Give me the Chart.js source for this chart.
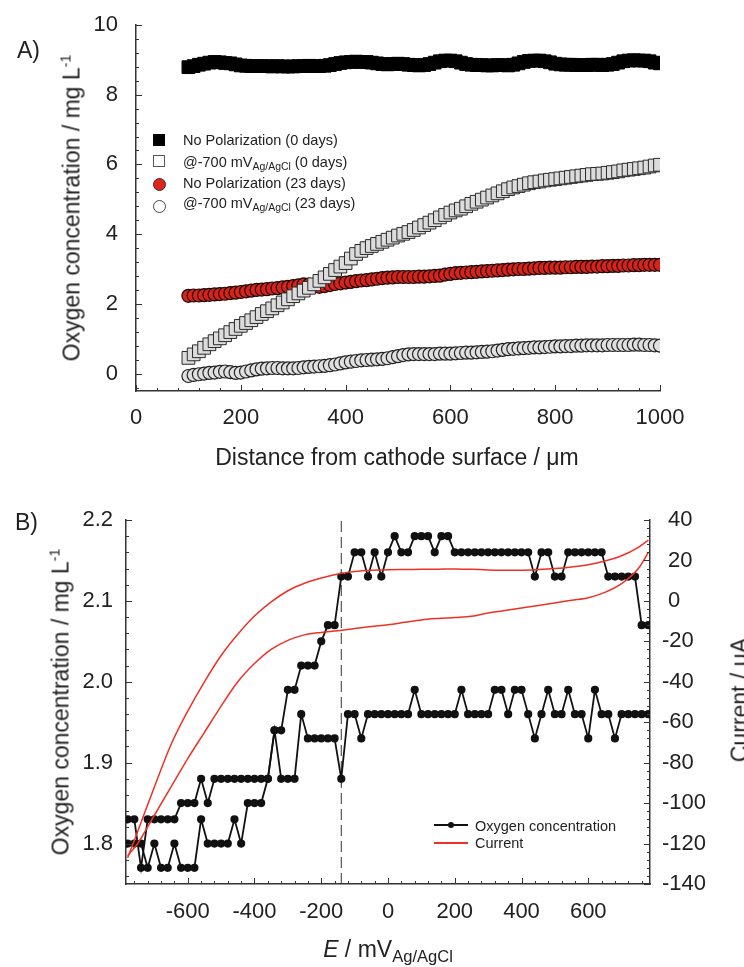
<!DOCTYPE html>
<html>
<head>
<meta charset="utf-8">
<script src="https://cdn.jsdelivr.net/npm/chart.js@4.4.1/dist/chart.umd.min.js"></script>
<style>
  html, body { margin: 0; padding: 0; background: #fff; }
  body { width: 744px; height: 967px; position: relative; overflow: hidden;
         font-family: 'Liberation Sans', Arial, sans-serif; color: #222; }
  canvas { position: absolute; left: 0; }
  .t { position: absolute; white-space: nowrap; line-height: 1; }
  .rot { transform: translate(-50%, -50%) rotate(-90deg); }
  .ctr { transform: translateX(-50%); }
  sub { font-size: 0.72em; vertical-align: -0.32em; line-height: 0; }
  sup { font-size: 0.62em; vertical-align: 0.62em; line-height: 0; }
  .leg { font-size: 14.5px; }
  .sym { position: absolute; box-sizing: border-box; }
</style>
</head>
<body>
<canvas id="chartA" width="744" height="470" style="top:0"></canvas>
<canvas id="chartB" width="744" height="497" style="top:470px"></canvas>

<div class="t" style="left:17px; top:38.5px; font-size:23px">A)</div>
<div class="t" style="left:15px; top:510.5px; font-size:23px">B)</div>

<div class="t rot" style="left:72px; top:208px; font-size:23px">Oxygen concentration / mg L<sup>-1</sup></div>
<div class="t ctr" style="left:397px; top:445.5px; font-size:23px">Distance from cathode surface / &mu;m</div>

<div class="t rot" style="left:61px; top:702px; font-size:23px">Oxygen concentration / mg L<sup>-1</sup></div>
<div class="t rot" style="left:739.5px; top:700px; font-size:23px">Current / &mu;A</div>
<div class="t ctr" style="left:388px; top:937.5px; font-size:23px"><i>E</i> / mV<sub>Ag/AgCl</sub></div>

<!-- legend A -->
<div class="sym" style="left:153px; top:134px; width:12px; height:12px; background:#000"></div>
<div class="sym" style="left:153px; top:155px; width:12px; height:12px; background:#fff; border:1px solid #555"></div>
<div class="sym" style="left:152.5px; top:177.5px; width:13px; height:13px; border-radius:50%; background:#e0261c; border:1px solid #333"></div>
<div class="sym" style="left:152.5px; top:199.5px; width:13px; height:13px; border-radius:50%; background:#fff; border:1px solid #444"></div>
<div class="t leg" style="left:183px; top:132.7px">No Polarization (0 days)</div>
<div class="t leg" style="left:183px; top:154.7px">@-700 mV<sub>Ag/AgCl</sub> (0 days)</div>
<div class="t leg" style="left:183px; top:175.7px">No Polarization (23 days)</div>
<div class="t leg" style="left:183px; top:195.7px">@-700 mV<sub>Ag/AgCl</sub> (23 days)</div>

<!-- legend B -->
<div class="sym" style="left:434px; top:824px; width:34px; height:2px; background:#111"></div>
<div class="sym" style="left:448px; top:822px; width:6px; height:6px; border-radius:50%; background:#111"></div>
<div class="sym" style="left:434px; top:842px; width:34px; height:2px; background:#ee3124"></div>
<div class="t leg" style="left:475px; top:818.7px">Oxygen concentration</div>
<div class="t leg" style="left:475px; top:835.7px">Current</div>

<script>
// ---------- Panel A: oxygen profiles vs distance ----------
const DIST = [100, 110, 120, 130, 140, 150, 160, 170, 180, 190,
  200, 210, 220, 230, 240, 250, 260, 270, 280, 290,
  300, 310, 320, 330, 340, 350, 360, 370, 380, 390,
  400, 410, 420, 430, 440, 450, 460, 470, 480, 490,
  500, 510, 520, 530, 540, 550, 560, 570, 580, 590,
  600, 610, 620, 630, 640, 650, 660, 670, 680, 690,
  700, 710, 720, 730, 740, 750, 760, 770, 780, 790,
  800, 810, 820, 830, 840, 850, 860, 870, 880, 890,
  900, 910, 920, 930, 940, 950, 960, 970, 980, 990, 1000];

const NOPOL_0D = [8.79, 8.82, 8.86, 8.89, 8.92, 8.94, 8.93, 8.91, 8.90, 8.87,
  8.84, 8.83, 8.82, 8.82, 8.82, 8.82, 8.81, 8.82, 8.81, 8.81,
  8.81, 8.82, 8.82, 8.83, 8.82, 8.82, 8.83, 8.85, 8.88, 8.91,
  8.93, 8.94, 8.95, 8.94, 8.94, 8.92, 8.90, 8.88, 8.87, 8.88,
  8.89, 8.88, 8.86, 8.85, 8.84, 8.85, 8.88, 8.92, 8.96, 8.98,
  8.98, 8.96, 8.92, 8.88, 8.86, 8.85, 8.85, 8.84, 8.84, 8.85,
  8.85, 8.84, 8.86, 8.90, 8.94, 8.97, 8.98, 8.98, 8.96, 8.93,
  8.89, 8.87, 8.86, 8.86, 8.85, 8.85, 8.85, 8.86, 8.86, 8.85,
  8.86, 8.88, 8.92, 8.96, 8.98, 8.99, 8.98, 8.98, 8.96, 8.92, 8.90];

const POL_0D = [0.45, 0.55, 0.64, 0.74, 0.84, 0.93, 1.01, 1.10, 1.19, 1.28,
  1.37, 1.45, 1.53, 1.62, 1.71, 1.79, 1.87, 1.96, 2.04, 2.13,
  2.22, 2.30, 2.38, 2.46, 2.56, 2.66, 2.76, 2.86, 2.97, 3.07,
  3.17, 3.30, 3.43, 3.52, 3.60, 3.66, 3.72, 3.78, 3.84, 3.90,
  3.96, 4.01, 4.06, 4.12, 4.19, 4.26, 4.33, 4.40, 4.48, 4.55,
  4.62, 4.68, 4.73, 4.80, 4.87, 4.93, 4.99, 5.05, 5.11, 5.17,
  5.23, 5.29, 5.34, 5.38, 5.42, 5.46, 5.49, 5.51, 5.54, 5.56,
  5.58, 5.60, 5.62, 5.64, 5.66, 5.68, 5.70, 5.72, 5.73, 5.74,
  5.76, 5.78, 5.80, 5.83, 5.85, 5.87, 5.89, 5.91, 5.94, 5.97, 5.99];

const NOPOL_23D = [2.23, 2.24, 2.24, 2.25, 2.26, 2.27, 2.28, 2.29, 2.31, 2.32,
  2.34, 2.36, 2.38, 2.40, 2.41, 2.42, 2.44, 2.45, 2.47, 2.49,
  2.51, 2.53, 2.56, 2.55, 2.50, 2.49, 2.51, 2.54, 2.57, 2.59,
  2.61, 2.63, 2.65, 2.67, 2.68, 2.70, 2.72, 2.74, 2.75, 2.76,
  2.77, 2.77, 2.77, 2.77, 2.78, 2.78, 2.79, 2.80, 2.81, 2.84,
  2.86, 2.88, 2.89, 2.90, 2.91, 2.92, 2.93, 2.94, 2.95, 2.96,
  2.97, 2.98, 2.99, 3.00, 3.00, 3.01, 3.02, 3.03, 3.03, 3.04,
  3.04, 3.04, 3.05, 3.05, 3.06, 3.06, 3.06, 3.07, 3.07, 3.08,
  3.08, 3.09, 3.09, 3.10, 3.10, 3.11, 3.11, 3.12, 3.12, 3.12, 3.12];

const POL_23D = [-0.07, -0.04, -0.02, 0.00, 0.02, 0.03, 0.05, 0.06, 0.04, 0.02,
  0.03, 0.06, 0.09, 0.12, 0.14, 0.15, 0.16, 0.16, 0.15, 0.15,
  0.15, 0.16, 0.18, 0.19, 0.20, 0.21, 0.22, 0.24, 0.26, 0.29,
  0.32, 0.34, 0.36, 0.38, 0.39, 0.40, 0.41, 0.42, 0.44, 0.47,
  0.50, 0.53, 0.55, 0.56, 0.56, 0.56, 0.56, 0.56, 0.57, 0.57,
  0.57, 0.58, 0.59, 0.60, 0.60, 0.61, 0.62, 0.63, 0.64, 0.66,
  0.68, 0.70, 0.71, 0.72, 0.73, 0.74, 0.75, 0.75, 0.76, 0.77,
  0.78, 0.78, 0.79, 0.79, 0.80, 0.80, 0.81, 0.81, 0.81, 0.81,
  0.82, 0.82, 0.82, 0.82, 0.82, 0.83, 0.83, 0.82, 0.82, 0.81, 0.80];

const A_X_TICKS = [0, 200, 400, 600, 800, 1000];
const A_Y_TICKS = [0, 2, 4, 6, 8, 10];

// ---------- Panel B: oxygen and current vs potential ----------
const E_GRID = [-780, -760, -740, -720, -700, -680, -660, -640, -620, -600,
  -580, -560, -540, -520, -500, -480, -460, -440, -420, -400,
  -380, -360, -340, -320, -300, -280, -260, -240, -220, -200,
  -180, -160, -140, -120, -100, -80, -60, -40, -20, 0,
  20, 40, 60, 80, 100, 120, 140, 160, 180, 200,
  220, 240, 260, 280, 300, 320, 340, 360, 380, 400,
  420, 440, 460, 480, 500, 520, 540, 560, 580, 600,
  620, 640, 660, 680, 700, 720, 740, 760, 780];

const O2_SWEEP_1 = [1.83, 1.83, 1.77, 1.83, 1.83, 1.83, 1.83, 1.83, 1.85, 1.85,
  1.85, 1.88, 1.85, 1.88, 1.88, 1.88, 1.88, 1.88, 1.88, 1.88,
  1.88, 1.88, 1.94, 1.94, 1.99, 1.99, 2.02, 2.02, 2.02, 2.05,
  2.07, 2.07, 2.13, 2.13, 2.16, 2.16, 2.13, 2.16, 2.13, 2.16,
  2.18, 2.16, 2.16, 2.18, 2.18, 2.18, 2.16, 2.18, 2.18, 2.16,
  2.16, 2.16, 2.16, 2.16, 2.16, 2.16, 2.16, 2.16, 2.16, 2.16,
  2.16, 2.13, 2.16, 2.16, 2.13, 2.13, 2.16, 2.16, 2.16, 2.16,
  2.16, 2.16, 2.13, 2.13, 2.13, 2.13, 2.13, 2.07, 2.07];

const O2_SWEEP_2 = [1.80, 1.80, 1.80, 1.77, 1.80, 1.77, 1.77, 1.80, 1.77, 1.77,
  1.77, 1.83, 1.80, 1.80, 1.80, 1.80, 1.83, 1.80, 1.85, 1.85,
  1.85, 1.88, 1.94, 1.88, 1.88, 1.88, 1.96, 1.93, 1.93, 1.93,
  1.93, 1.93, 1.88, 1.96, 1.96, 1.93, 1.96, 1.96, 1.96, 1.96,
  1.96, 1.96, 1.96, 1.99, 1.96, 1.96, 1.96, 1.96, 1.96, 1.96,
  1.99, 1.96, 1.96, 1.96, 1.96, 1.99, 1.99, 1.96, 1.99, 1.99,
  1.96, 1.93, 1.96, 1.99, 1.96, 1.96, 1.99, 1.96, 1.96, 1.93,
  1.99, 1.96, 1.96, 1.93, 1.96, 1.96, 1.96, 1.96, 1.96];

const E_CURRENT = [-780, -750, -700, -650, -600, -550, -500, -450, -400, -350,
  -300, -250, -200, -150, -100, -50, 0, 50, 100, 150,
  200, 250, 300, 350, 400, 450, 500, 550, 600, 650,
  700, 750, 780];
const CURRENT_UPPER = [-127, -114, -92, -71, -54.5, -40, -27, -16.5, -7.5, -0.5,
  5, 8.7, 11.3, 13.3, 14.5, 15.1, 15.4, 15.5, 15.6, 15.7,
  15.8, 15.6, 15.3, 15.2, 15.2, 15.5, 16, 16.8, 17.9, 19.7,
  22.3, 26.5, 30];
const CURRENT_LOWER = [-126, -120, -106, -92, -78, -65, -52, -40, -31, -24,
  -19.5, -16.8, -15.6, -14.8, -13.7, -12.7, -11.8, -10.6, -9.4, -8.7,
  -8.2, -7.6, -6.0, -4.8, -3.5, -2.3, -1.0, 0.3, 1.6, 4.2,
  8.5, 16, 24];

const E_OCP = -140;
const B_X_TICKS = [-600, -400, -200, 0, 200, 400, 600];
const B_Y_TICKS = [1.8, 1.9, 2.0, 2.1, 2.2];
const B_Y2_TICKS = [-140, -120, -100, -80, -60, -40, -20, 0, 20, 40];

const FONT = { family: "'Liberation Sans', Arial, sans-serif", size: 22 };
const INK = '#222';

function pts(xs, ys) {
  return xs.map((x, i) => ({ x, y: ys[i] }));
}

function fixedTicks(values) {
  return (scale) => { scale.ticks = values.map(v => ({ value: v })); };
}

// fix an axis box to a set size and drop the label overhang padding
function fitTo(size) {
  return (s) => {
    if (s.isHorizontal()) s.height = size; else s.width = size;
    s.paddingTop = s.paddingBottom = s.paddingLeft = s.paddingRight = 0;
  };
}

// inward major + minor tick marks, like the original plotting package
const tickMarks = {
  id: 'tickMarks',
  afterDraw(chart, args, opts) {
    const ctx = chart.ctx;
    ctx.save();
    ctx.strokeStyle = '#333';
    ctx.lineWidth = 1;
    for (const t of opts.axes || []) {
      const s = chart.scales[t.id];
      const ratio = Math.round(t.major / t.minor);
      const first = Math.ceil(s.min / t.minor - 1e-6);
      const last = Math.floor(s.max / t.minor + 1e-6);
      for (let i = first; i <= last; i++) {
        const p = Math.round(s.getPixelForValue(i * t.minor)) + 0.5;
        const len = (i % ratio === 0) ? 6 : 3;
        ctx.beginPath();
        if (s.isHorizontal()) {
          ctx.moveTo(p, s.top); ctx.lineTo(p, s.top - len);
        } else if (s.position === 'left') {
          ctx.moveTo(s.right, p); ctx.lineTo(s.right + len, p);
        } else {
          ctx.moveTo(s.left, p); ctx.lineTo(s.left - len, p);
        }
        ctx.stroke();
      }
    }
    ctx.restore();
  }
};

function axisBase(extra) {
  return Object.assign({
    type: 'linear',
    grid: { display: false, drawTicks: false },
    border: { display: true, color: '#333', width: 1.5 },
  }, extra);
}

new Chart(document.getElementById('chartA'), {
  type: 'scatter',
  plugins: [tickMarks],
  data: {
    datasets: [
      { label: 'No Polarization (0 days)', data: pts(DIST, NOPOL_0D), pointStyle: 'rect',
        pointRadius: 9, backgroundColor: '#000', borderColor: '#000', borderWidth: 1, order: 3 },
      { label: '@-700 mV Ag/AgCl (0 days)', data: pts(DIST, POL_0D), pointStyle: 'rect',
        pointRadius: 9, backgroundColor: '#dcdcdc', borderColor: '#2a2a2a', borderWidth: 1, order: 0 },
      { label: 'No Polarization (23 days)', data: pts(DIST, NOPOL_23D), pointStyle: 'circle',
        pointRadius: 6.5, backgroundColor: '#d8231a', borderColor: '#1a0808', borderWidth: 1.2, order: 1 },
      { label: '@-700 mV Ag/AgCl (23 days)', data: pts(DIST, POL_23D), pointStyle: 'circle',
        pointRadius: 6.5, backgroundColor: '#e0e0e0', borderColor: '#222', borderWidth: 1.2, order: 2 }
    ]
  },
  options: {
    responsive: false, animation: false, events: [],
    layout: { padding: { top: 25, right: 84, left: 0, bottom: 0 } },
    plugins: {
      legend: { display: false }, tooltip: { enabled: false },
      tickMarks: { axes: [{ id: 'x', major: 200, minor: 40 }, { id: 'y', major: 2, minor: 0.4 }] }
    },
    scales: {
      x: axisBase({ min: 0, max: 1000, afterBuildTicks: fixedTicks(A_X_TICKS),
        afterFit: fitTo(79),
        ticks: { padding: 14, font: FONT, color: INK, maxRotation: 0, autoSkip: false,
          callback: v => String(v) } }),
      y: axisBase({ min: -0.5, max: 10, afterBuildTicks: fixedTicks(A_Y_TICKS),
        afterFit: fitTo(136),
        ticks: { padding: 18, font: FONT, color: INK, autoSkip: false } })
    }
  }
});

new Chart(document.getElementById('chartB'), {
  type: 'scatter',
  plugins: [tickMarks],
  data: {
    datasets: [
      { label: 'Current', data: pts(E_CURRENT, CURRENT_UPPER), yAxisID: 'y2', showLine: true,
        cubicInterpolationMode: 'monotone', pointRadius: 0, borderColor: '#ee3124', borderWidth: 1.5, order: 0 },
      { label: 'Current (reverse)', data: pts(E_CURRENT, CURRENT_LOWER), yAxisID: 'y2', showLine: true,
        cubicInterpolationMode: 'monotone', pointRadius: 0, borderColor: '#ee3124', borderWidth: 1.5, order: 0 },
      { label: 'Oxygen concentration', data: pts(E_GRID, O2_SWEEP_1), yAxisID: 'y', showLine: true,
        pointRadius: 3.2, backgroundColor: '#111', borderColor: '#111', borderWidth: 1.8, order: 1 },
      { label: 'Oxygen concentration (reverse)', data: pts(E_GRID, O2_SWEEP_2), yAxisID: 'y', showLine: true,
        pointRadius: 3.2, backgroundColor: '#111', borderColor: '#111', borderWidth: 1.8, order: 1 },
      { label: 'OCP', data: [{ x: E_OCP, y: 1.75 }, { x: E_OCP, y: 2.2 }], yAxisID: 'y', showLine: true,
        pointRadius: 0, borderColor: '#333', borderWidth: 1, borderDash: [11, 5], order: 2 }
    ]
  },
  options: {
    responsive: false, animation: false, events: [],
    layout: { padding: { top: 50, right: 0, left: 0, bottom: 0 } },
    plugins: {
      legend: { display: false }, tooltip: { enabled: false },
      tickMarks: { axes: [
        { id: 'x', major: 200, minor: 40 },
        { id: 'y', major: 0.1, minor: 0.02 },
        { id: 'y2', major: 20, minor: 4 }
      ] }
    },
    scales: {
      x: axisBase({ min: -785, max: 785, afterBuildTicks: fixedTicks(B_X_TICKS),
        afterFit: fitTo(83),
        ticks: { padding: 15, font: FONT, color: INK, maxRotation: 0, autoSkip: false } }),
      y: axisBase({ position: 'left', min: 1.75, max: 2.2, afterBuildTicks: fixedTicks(B_Y_TICKS),
        afterFit: fitTo(126),
        ticks: { padding: 13, font: FONT, color: INK, autoSkip: false, callback: v => v.toFixed(1) } }),
      y2: axisBase({ position: 'right', min: -140, max: 40, afterBuildTicks: fixedTicks(B_Y2_TICKS),
        afterFit: fitTo(94),
        ticks: { padding: 12, font: FONT, color: INK, autoSkip: false,
          callback: v => (v < 0 ? String(v) : ' ' + v) } })
    }
  }
});
</script>
</body>
</html>
